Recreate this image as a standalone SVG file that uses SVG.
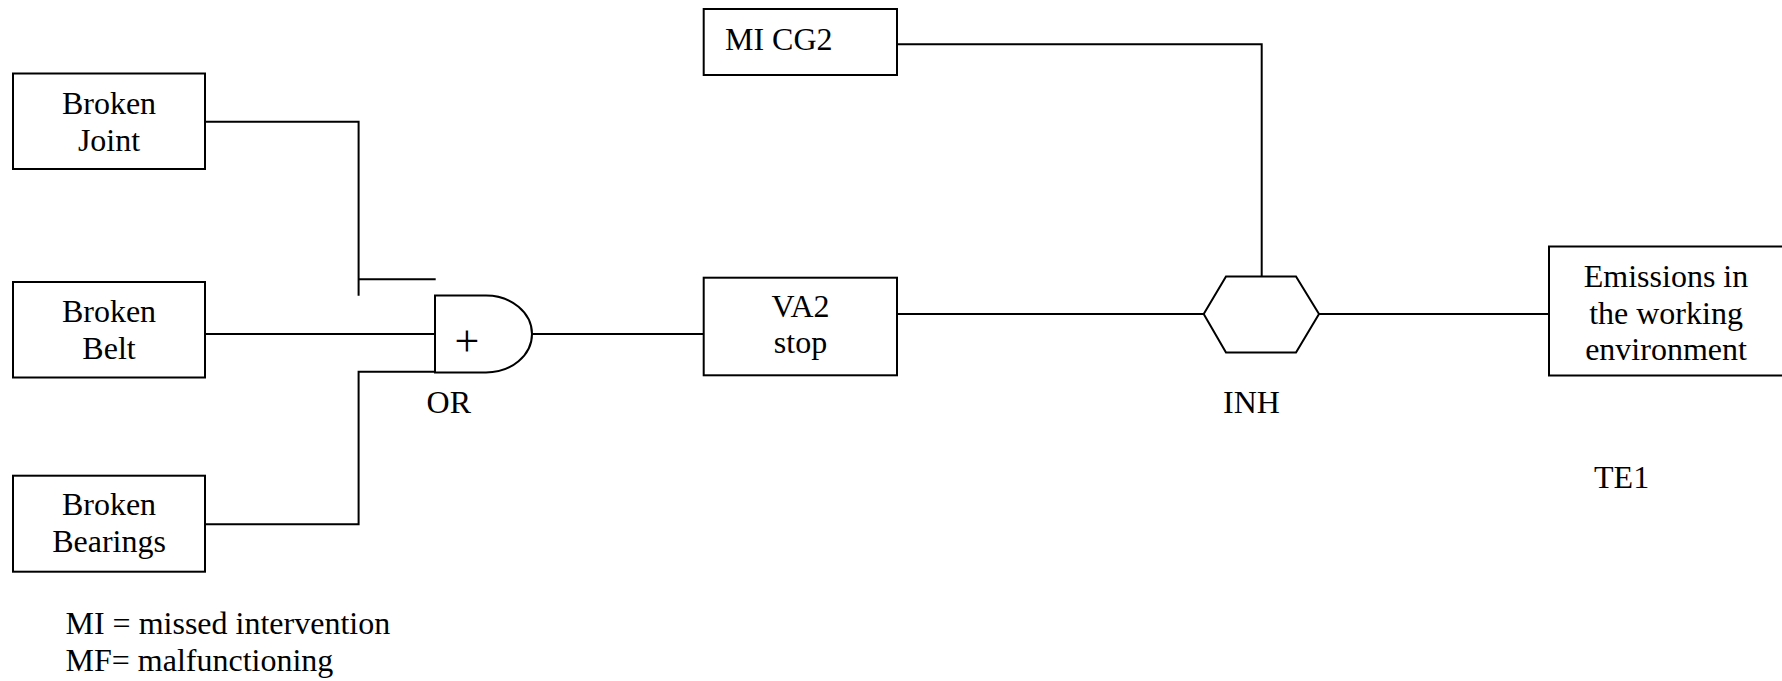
<svg xmlns="http://www.w3.org/2000/svg" width="1782" height="681" viewBox="0 0 1782 681">
<style>
.box{fill:#fff;stroke:#000;stroke-width:2}
.ln{fill:none;stroke:#000;stroke-width:2}
.c{text-anchor:middle}
</style>
<rect width="1782" height="681" fill="#fff"/>
<g id="connectors">
<polyline class="ln" points="205,121.7 358.6,121.7 358.6,295.7"/>
<line class="ln" x1="358.6" y1="279.3" x2="435.7" y2="279.3"/>
<line class="ln" x1="205" y1="334" x2="435" y2="334"/>
<polyline class="ln" points="205,524.3 358.6,524.3 358.6,371.7 435,371.7"/>
<line class="ln" x1="532" y1="334" x2="703.7" y2="334"/>
<polyline class="ln" points="897,44.3 1261.7,44.3 1261.7,276.5"/>
<line class="ln" x1="897" y1="314" x2="1203.7" y2="314"/>
<line class="ln" x1="1319" y1="314" x2="1549" y2="314"/>
</g>
<g font-family="Liberation Serif, Times New Roman, Times, serif" font-size="32" fill="#000">
<g id="broken-joint">
<rect class="box" x="13" y="73.5" width="192" height="95.5"/>
<text class="c" x="109" y="114">Broken</text>
<text class="c" x="109" y="150.7">Joint</text>
</g>
<g id="broken-belt">
<rect class="box" x="13" y="282" width="192" height="95.5"/>
<text class="c" x="109" y="321.7">Broken</text>
<text class="c" x="109" y="359">Belt</text>
</g>
<g id="broken-bearings">
<rect class="box" x="13" y="475.7" width="192" height="96"/>
<text class="c" x="109" y="515">Broken</text>
<text class="c" x="109" y="552">Bearings</text>
</g>
<g id="or-gate">
<path class="ln" d="M435,295.5 H486 A46,38.5 0 0 1 486,372.5 H435 Z" fill="#fff"/>
<text class="c" x="467" y="356" font-size="44">+</text>
<text class="c" x="448.8" y="413.3">OR</text>
</g>
<g id="va2-stop">
<rect class="box" x="703.7" y="277.7" width="193.3" height="97.6"/>
<text class="c" x="800.5" y="316.7">VA2</text>
<text class="c" x="800.5" y="353.3">stop</text>
</g>
<g id="mi-cg2">
<rect class="box" x="703.7" y="9" width="193.3" height="66"/>
<text x="725" y="50">MI CG2</text>
</g>
<g id="inh-gate">
<polygon class="ln" fill="#fff" points="1203.7,314 1226,276.5 1296,276.5 1319,314 1296,352.5 1226,352.5"/>
<text class="c" x="1251.5" y="413.3">INH</text>
</g>
<g id="emissions">
<rect class="box" x="1549" y="246.5" width="250" height="129"/>
<text class="c" x="1666" y="286.7">Emissions in</text>
<text class="c" x="1666" y="324">the working</text>
<text class="c" x="1666" y="360">environment</text>
<text class="c" x="1621.6" y="487.7">TE1</text>
</g>
<g id="legend">
<text x="65.5" y="634">MI = missed intervention</text>
<text x="65.5" y="671">MF= malfunctioning</text>
</g>
</g>
</svg>
